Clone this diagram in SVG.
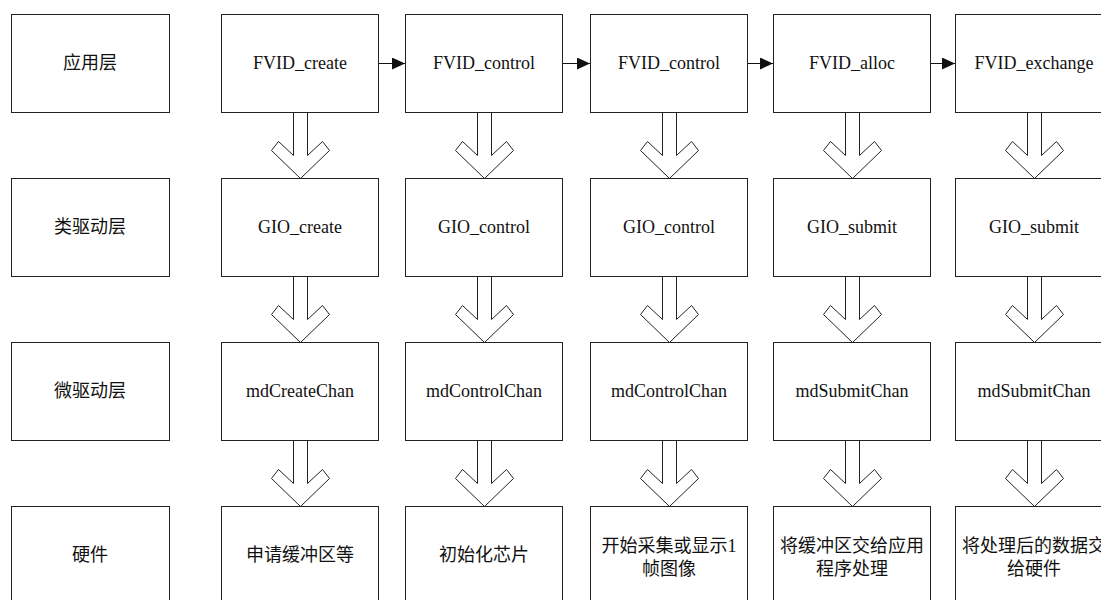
<svg xmlns="http://www.w3.org/2000/svg" xmlns:xlink="http://www.w3.org/1999/xlink" width="1101" height="600" viewBox="0 0 1101 600">
<style>
.box{fill:#fff;stroke:#222;stroke-width:1}
.t{font-family:"Liberation Serif","Noto Sans CJK SC",serif;font-size:18px;fill:#111;text-anchor:middle}
.dn{fill:#fff;stroke:#222;stroke-width:1;stroke-linejoin:miter}
.hl{stroke:#111;stroke-width:1;fill:none}
</style>
<defs>
<marker id="ah" markerWidth="13" markerHeight="12" refX="13" refY="6" orient="auto" markerUnits="userSpaceOnUse">
<path d="M0,0 L13,6 L0,12 Z" fill="#111"/>
</marker>
<path id="dn" class="dn" d="M-7,0 L7,0 L7,43 L22,29 L29,38 L0,66 L-29,38 L-22,29 L-7,43 Z"/>
</defs>
<rect width="1101" height="600" fill="#fff"/>
<g id="connectors">
<line class="hl" x1="379" y1="63.5" x2="405" y2="63.5" marker-end="url(#ah)"/>
<line class="hl" x1="563" y1="63.5" x2="590" y2="63.5" marker-end="url(#ah)"/>
<line class="hl" x1="748" y1="63.5" x2="773" y2="63.5" marker-end="url(#ah)"/>
<line class="hl" x1="931" y1="63.5" x2="955" y2="63.5" marker-end="url(#ah)"/>
<use xlink:href="#dn" x="300.5" y="112.5"/>
<use xlink:href="#dn" x="484.5" y="112.5"/>
<use xlink:href="#dn" x="669.5" y="112.5"/>
<use xlink:href="#dn" x="852.5" y="112.5"/>
<use xlink:href="#dn" x="1034.5" y="112.5"/>
<use xlink:href="#dn" x="300.5" y="276.5"/>
<use xlink:href="#dn" x="484.5" y="276.5"/>
<use xlink:href="#dn" x="669.5" y="276.5"/>
<use xlink:href="#dn" x="852.5" y="276.5"/>
<use xlink:href="#dn" x="1034.5" y="276.5"/>
<use xlink:href="#dn" x="300.5" y="440.5"/>
<use xlink:href="#dn" x="484.5" y="440.5"/>
<use xlink:href="#dn" x="669.5" y="440.5"/>
<use xlink:href="#dn" x="852.5" y="440.5"/>
<use xlink:href="#dn" x="1034.5" y="440.5"/>
</g>
<g id="L1"><rect class="box" x="11.5" y="14.5" width="158" height="98"/><text class="t" x="90" y="69">应用层</text></g>
<g id="L2"><rect class="box" x="11.5" y="178.5" width="158" height="98"/><text class="t" x="90" y="233">类驱动层</text></g>
<g id="L3"><rect class="box" x="11.5" y="342.5" width="158" height="98"/><text class="t" x="90" y="397">微驱动层</text></g>
<g id="L4"><rect class="box" x="11.5" y="506.5" width="158" height="98"/><text class="t" x="90" y="561">硬件</text></g>

<g id="a1"><rect class="box" x="221.5" y="14.5" width="157" height="98"/><text class="t" x="300" y="69">FVID_create</text></g>
<g id="a2"><rect class="box" x="405.5" y="14.5" width="157" height="98"/><text class="t" x="484" y="69">FVID_control</text></g>
<g id="a3"><rect class="box" x="590.5" y="14.5" width="157" height="98"/><text class="t" x="669" y="69">FVID_control</text></g>
<g id="a4"><rect class="box" x="773.5" y="14.5" width="157" height="98"/><text class="t" x="852" y="69">FVID_alloc</text></g>
<g id="a5"><rect class="box" x="955.5" y="14.5" width="158" height="98"/><text class="t" x="1034" y="69">FVID_exchange</text></g>

<g id="b1"><rect class="box" x="221.5" y="178.5" width="157" height="98"/><text class="t" x="300" y="233">GIO_create</text></g>
<g id="b2"><rect class="box" x="405.5" y="178.5" width="157" height="98"/><text class="t" x="484" y="233">GIO_control</text></g>
<g id="b3"><rect class="box" x="590.5" y="178.5" width="157" height="98"/><text class="t" x="669" y="233">GIO_control</text></g>
<g id="b4"><rect class="box" x="773.5" y="178.5" width="157" height="98"/><text class="t" x="852" y="233">GIO_submit</text></g>
<g id="b5"><rect class="box" x="955.5" y="178.5" width="158" height="98"/><text class="t" x="1034" y="233">GIO_submit</text></g>

<g id="c1"><rect class="box" x="221.5" y="342.5" width="157" height="98"/><text class="t" x="300" y="397">mdCreateChan</text></g>
<g id="c2"><rect class="box" x="405.5" y="342.5" width="157" height="98"/><text class="t" x="484" y="397">mdControlChan</text></g>
<g id="c3"><rect class="box" x="590.5" y="342.5" width="157" height="98"/><text class="t" x="669" y="397">mdControlChan</text></g>
<g id="c4"><rect class="box" x="773.5" y="342.5" width="157" height="98"/><text class="t" x="852" y="397">mdSubmitChan</text></g>
<g id="c5"><rect class="box" x="955.5" y="342.5" width="158" height="98"/><text class="t" x="1034" y="397">mdSubmitChan</text></g>

<g id="d1"><rect class="box" x="221.5" y="506.5" width="157" height="98"/><text class="t" x="300" y="561">申请缓冲区等</text></g>
<g id="d2"><rect class="box" x="405.5" y="506.5" width="157" height="98"/><text class="t" x="484" y="561">初始化芯片</text></g>
<g id="d3"><rect class="box" x="590.5" y="506.5" width="157" height="98"/><text class="t" x="669" y="552">开始采集或显示1</text><text class="t" x="669" y="575">帧图像</text></g>
<g id="d4"><rect class="box" x="773.5" y="506.5" width="157" height="98"/><text class="t" x="852" y="552">将缓冲区交给应用</text><text class="t" x="852" y="575">程序处理</text></g>
<g id="d5"><rect class="box" x="955.5" y="506.5" width="158" height="98"/><text class="t" x="1034" y="552">将处理后的数据交</text><text class="t" x="1034" y="575">给硬件</text></g>
</svg>
